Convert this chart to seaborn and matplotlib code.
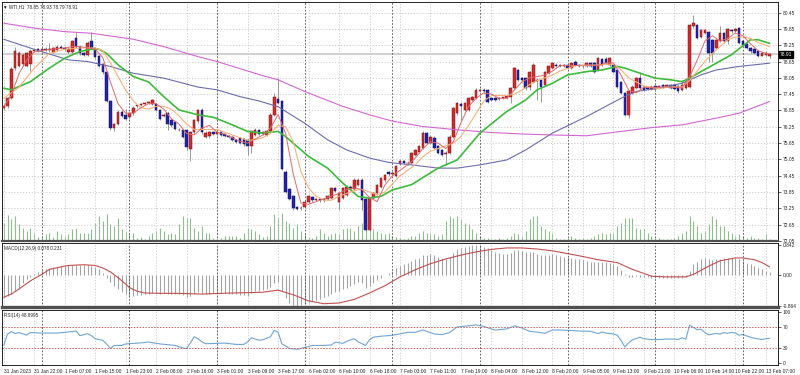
import matplotlib
matplotlib.use('Agg')
import matplotlib.pyplot as plt
import seaborn as sns

# WTI H1 bars, 31 Jan 14:00 -> 13 Feb 08:00 (one entry per hourly bar)
opens = [
    76.93, 77.00, 77.32, 78.40, 78.50, 78.55, 78.50, 78.55, 79.05, 79.10,
    79.05, 79.12, 79.06, 79.00, 79.08, 79.18, 79.15, 79.00, 79.00, 79.52,
    79.20, 78.95, 78.90, 79.40, 79.15, 78.85, 78.55, 78.25, 77.20, 76.20,
    76.35, 76.80, 76.70, 76.60, 76.75, 77.00, 77.05, 77.10, 77.14, 77.08,
    77.08, 76.86, 76.65, 76.74, 76.49, 76.43, 76.12, 76.12, 76.12, 75.44,
    76.06, 76.45, 76.85, 75.88, 75.90, 76.05, 76.00, 76.05, 76.00, 75.92,
    75.87, 75.76, 75.82, 75.80, 75.75, 75.55, 75.95, 76.15, 75.97, 75.95,
    76.08, 76.70, 77.27, 77.20, 74.60, 73.95, 73.70, 73.30, 73.25, 73.30,
    73.50, 73.65, 73.56, 73.58, 73.55, 73.58, 73.62, 74.00, 73.50, 73.63,
    73.75, 74.05, 73.95, 74.12, 74.30, 73.60, 72.46, 73.63, 73.81, 74.05,
    74.28, 74.60, 74.50, 74.45, 74.88, 75.00, 74.92, 74.91, 75.22, 75.34,
    75.46, 76.02, 75.65, 75.85, 75.53, 75.40, 75.25, 75.30, 75.89, 76.75,
    77.10, 76.87, 76.87, 77.24, 77.30, 77.58, 77.61, 77.61, 77.30, 77.30,
    77.28, 77.30, 77.32, 77.36, 77.67, 78.34, 78.04, 78.04, 77.73, 77.91,
    77.98, 77.98, 77.79, 78.22, 78.41, 78.53, 78.50, 78.52, 78.53, 78.41,
    78.65, 78.53, 78.48, 78.47, 78.59, 78.59, 78.34, 78.74, 78.74, 78.53,
    78.53, 78.34, 77.91, 77.49, 76.69, 77.49, 77.67, 78.04, 77.73, 77.67,
    77.63, 77.76, 77.71, 77.79, 77.76, 77.79, 77.79, 77.76, 77.61, 77.67,
    77.70, 79.94, 80.00, 79.57, 79.69, 79.75, 79.45, 79.14, 79.40, 79.69,
    79.40, 79.81, 79.76, 79.88, 79.39, 79.30, 79.16, 79.10, 79.02, 78.87,
    78.90, 78.85]
highs = [
    77.05, 77.35, 78.45, 79.20, 79.05, 78.98, 79.00, 79.10, 79.12, 79.15,
    79.18, 79.20, 79.33, 79.20, 79.25, 79.25, 79.22, 79.18, 79.45, 79.74,
    79.25, 79.00, 79.40, 79.74, 79.20, 78.90, 78.60, 78.30, 77.25, 76.40,
    76.85, 76.85, 76.90, 76.80, 77.00, 77.08, 77.14, 77.16, 77.20, 77.28,
    77.12, 76.90, 76.75, 76.78, 76.55, 76.48, 76.20, 76.16, 76.15, 76.10,
    76.55, 76.92, 76.95, 76.08, 76.10, 76.10, 76.10, 76.08, 76.04, 75.96,
    75.90, 75.80, 75.86, 75.84, 75.80, 76.15, 76.20, 76.18, 76.10, 76.12,
    76.75, 77.50, 78.04, 77.24, 74.65, 74.00, 73.75, 73.34, 73.32, 73.55,
    73.75, 73.70, 73.62, 73.62, 73.64, 73.74, 74.04, 74.05, 73.85, 74.02,
    74.10, 74.10, 74.35, 74.36, 74.35, 73.65, 73.68, 73.86, 74.16, 74.40,
    74.52, 74.64, 74.62, 74.84, 75.05, 75.04, 74.98, 75.32, 75.44, 75.58,
    76.08, 76.06, 75.94, 75.90, 75.57, 75.45, 75.35, 75.94, 76.98, 77.16,
    77.15, 77.16, 77.34, 77.40, 77.66, 77.68, 77.66, 77.65, 77.34, 77.34,
    77.34, 77.36, 77.42, 77.72, 78.46, 78.38, 78.08, 78.08, 78.32, 78.58,
    78.03, 78.02, 78.32, 78.52, 78.65, 78.58, 78.57, 78.56, 78.57, 78.63,
    78.70, 78.57, 78.52, 78.63, 78.63, 78.63, 78.81, 78.79, 78.83, 78.83,
    78.57, 78.38, 77.95, 77.53, 77.60, 77.78, 78.09, 78.28, 77.77, 77.72,
    77.77, 77.80, 77.80, 77.83, 77.83, 77.83, 77.83, 77.80, 77.98, 77.96,
    80.04, 80.37, 80.04, 79.85, 79.85, 79.79, 79.49, 79.49, 79.94, 79.72,
    79.88, 79.85, 79.88, 79.92, 79.43, 79.34, 79.20, 79.14, 79.06, 79.00,
    79.02, 78.93]
lows = [
    76.88, 76.95, 77.28, 78.35, 78.45, 78.50, 78.45, 78.30, 79.00, 79.00,
    79.00, 79.03, 79.00, 78.98, 79.05, 79.10, 79.05, 78.95, 78.98, 79.15,
    78.90, 78.85, 78.85, 79.10, 78.75, 78.45, 78.20, 77.15, 76.12, 76.10,
    76.30, 76.60, 76.50, 76.55, 76.70, 76.95, 77.02, 77.05, 77.08, 77.05,
    76.83, 76.50, 76.60, 76.12, 76.25, 76.15, 76.08, 75.82, 75.38, 75.00,
    76.00, 76.40, 75.98, 75.82, 75.85, 75.95, 75.95, 75.90, 75.88, 75.84,
    75.72, 75.66, 75.62, 75.56, 75.20, 75.30, 75.90, 75.94, 75.94, 75.92,
    76.05, 76.65, 77.10, 74.65, 73.80, 73.55, 73.20, 73.18, 73.20, 73.28,
    73.45, 73.50, 73.52, 73.50, 73.50, 73.55, 73.58, 73.85, 73.20, 73.60,
    73.70, 73.90, 73.90, 74.08, 73.20, 72.40, 72.42, 73.58, 73.76, 74.00,
    74.22, 74.45, 74.44, 74.40, 74.84, 74.88, 74.86, 74.88, 75.18, 75.30,
    75.42, 75.60, 75.60, 75.42, 75.24, 75.18, 74.85, 75.26, 75.85, 76.70,
    76.51, 76.82, 76.82, 77.20, 77.26, 77.54, 77.50, 77.14, 77.20, 77.20,
    77.24, 77.26, 77.28, 77.12, 77.62, 77.94, 77.90, 77.62, 77.61, 77.86,
    77.24, 77.18, 77.75, 78.18, 78.36, 78.46, 78.46, 78.45, 78.37, 78.38,
    78.49, 78.46, 78.43, 78.44, 78.46, 78.24, 78.30, 78.49, 78.55, 78.50,
    78.24, 77.68, 77.44, 76.64, 76.57, 77.45, 77.63, 77.63, 77.57, 77.59,
    77.59, 77.58, 77.67, 77.67, 77.72, 77.63, 77.59, 77.49, 77.57, 77.63,
    77.66, 79.90, 79.47, 79.53, 79.65, 78.65, 78.65, 79.10, 79.36, 79.35,
    79.28, 79.71, 79.71, 79.28, 79.22, 79.10, 78.98, 78.92, 78.82, 78.84,
    78.86, 78.79]
closes = [
    77.02, 77.30, 78.38, 79.05, 78.95, 78.90, 78.95, 79.05, 79.08, 79.05,
    79.12, 79.08, 79.12, 79.15, 79.20, 79.15, 79.12, 79.12, 79.40, 79.20,
    78.95, 78.90, 79.35, 79.15, 78.80, 78.50, 78.28, 77.20, 76.20, 76.35,
    76.80, 76.65, 76.55, 76.75, 76.95, 77.05, 77.10, 77.12, 77.17, 77.23,
    76.86, 76.55, 76.70, 76.37, 76.30, 76.18, 76.15, 75.87, 75.50, 76.06,
    76.50, 76.88, 76.05, 76.03, 76.05, 76.00, 76.05, 75.95, 75.92, 75.87,
    75.75, 75.70, 75.65, 75.60, 75.55, 76.10, 76.15, 75.97, 76.07, 76.08,
    76.70, 77.36, 77.14, 74.70, 73.85, 73.60, 73.25, 73.23, 73.27, 73.50,
    73.69, 73.55, 73.58, 73.55, 73.60, 73.70, 74.00, 73.90, 73.81, 73.99,
    74.05, 73.95, 74.30, 74.30, 73.56, 72.46, 73.63, 73.81, 74.12, 74.36,
    74.48, 74.50, 74.55, 74.80, 75.00, 74.92, 74.93, 75.28, 75.40, 75.53,
    76.02, 75.65, 75.89, 75.46, 75.28, 75.22, 75.30, 75.89, 76.93, 77.12,
    77.00, 77.12, 77.30, 77.36, 77.61, 77.61, 77.55, 77.18, 77.24, 77.25,
    77.30, 77.33, 77.38, 77.67, 78.41, 77.98, 77.96, 77.67, 78.28, 78.53,
    77.92, 77.73, 78.28, 78.47, 78.59, 78.50, 78.53, 78.49, 78.41, 78.59,
    78.53, 78.50, 78.47, 78.59, 78.50, 78.28, 78.77, 78.53, 78.59, 78.77,
    78.28, 77.73, 77.49, 76.69, 77.55, 77.73, 78.04, 77.67, 77.61, 77.63,
    77.73, 77.63, 77.76, 77.71, 77.79, 77.67, 77.63, 77.55, 77.79, 77.91,
    80.00, 80.06, 79.51, 79.81, 79.81, 78.96, 78.96, 79.45, 79.69, 79.40,
    79.84, 79.78, 79.84, 79.32, 79.26, 79.14, 79.02, 78.96, 78.86, 78.96,
    78.98, 78.91]
volumes = [
    1800, 2600, 2200, 2500, 1700, 1300, 1000, 1300, 800, 400,
    500, 700, 800, 400, 1000, 700, 500, 700, 1200, 1300,
    800, 800, 800, 1200, 1800, 2500, 2000, 2700, 1700, 1500,
    2300, 1200, 1000, 700, 800, 300, 400, 200, 500, 800,
    1000, 1300, 1000, 700, 800, 700, 1700, 2500, 2300, 2300,
    1300, 1000, 1500, 800, 800, 300, 200, 300, 500, 500,
    500, 500, 300, 800, 1300, 1200, 1000, 700, 400, 500,
    1500, 2700, 2300, 2800, 2000, 1800, 1300, 1700, 1000, 700,
    400, 300, 500, 1200, 800, 500, 700, 800, 700, 1200,
    1300, 1300, 1000, 1500, 1800, 2500, 2300, 1200, 1000, 800,
    700, 800, 500, 400, 300, 200, 300, 500, 500, 800,
    1000, 800, 800, 700, 500, 700, 2000, 2500, 2300, 2500,
    2200, 1800, 1700, 1200, 800, 500, 300, 300, 200, 200,
    300, 200, 300, 500, 800, 700, 500, 1000, 2200, 2500,
    2500, 1500, 1200, 1000, 800, 300, 200, 200, 300, 500,
    300, 200, 300, 200, 300, 500, 700, 800, 700, 800,
    800, 1500, 1800, 2300, 2300, 2300, 1300, 1200, 1200, 800,
    500, 300, 300, 200, 200, 200, 300, 500, 800, 1000,
    2500, 2000, 1500, 800, 1000, 1700, 2500, 2200, 1500, 1500,
    1000, 800, 500, 700, 500, 300, 500, 300, 300, 200,
    700, 200]

# moving averages at sample bars
ma_fast_bars = list(range(0, 201, 2)) + [201]
ma_fast = [
    77.0, 77.4, 78.2, 78.7, 79.0, 79.05, 79.1, 79.12, 79.15, 79.2,
    79.2, 79.15, 79.1, 78.8, 77.9, 77.1, 76.75, 76.75, 76.95, 77.1,
    77.1, 76.9, 76.55, 76.35, 76.0, 75.95, 76.2, 76.3, 76.05, 75.98,
    75.85, 75.72, 75.65, 75.8, 75.95, 76.2, 76.7, 76.0, 74.5, 73.45,
    73.4, 73.5, 73.6, 73.7, 73.8, 73.95, 74.0, 73.95, 73.65, 73.5,
    74.1, 74.45, 74.65, 74.85, 75.1, 75.45, 75.7, 75.65, 75.45, 75.7,
    76.4, 77.0, 77.3, 77.5, 77.45, 77.3, 77.3, 77.6, 77.9, 78.05,
    78.1, 78.15, 78.3, 78.5, 78.5, 78.5, 78.52, 78.52, 78.5, 78.6,
    78.6, 78.15, 77.6, 77.5, 77.7, 77.7, 77.7, 77.72, 77.7, 77.68,
    78.1, 78.7, 79.4, 79.6, 79.4, 79.5, 79.7, 79.6, 79.3, 79.05,
    78.95, 78.93]
ma_mid_bars = [
    0, 4, 8, 12, 16, 20, 24, 26, 28, 30, 32, 34, 36, 38, 40, 42, 44, 46, 48, 50,
    52, 54, 56, 58, 60, 62, 64, 66, 68, 70, 72, 74, 76, 78, 80, 82, 84, 86, 88, 90,
    92, 94, 96, 98, 100, 102, 104, 106, 108, 110, 112, 114, 116, 118, 120, 122, 124,
    126, 128, 130, 132, 134, 136, 138, 140, 142, 144, 146, 148, 150, 152, 154, 156,
    158, 160, 162, 164, 166, 168, 170, 172, 174, 176, 178, 180, 182, 184, 186, 188,
    190, 192, 194, 196, 198, 201]
ma_mid = [
    77.3, 77.7, 78.4, 78.95, 79.1, 79.15, 79.15, 79.05, 78.6, 78.1,
    77.6, 77.2, 76.95, 76.9, 77.0, 77.0, 76.9, 76.65, 76.35, 76.15,
    76.15, 76.15, 76.15, 76.05, 75.95, 75.85, 75.75, 75.78, 75.85, 76.0,
    76.3, 76.25, 75.7, 74.6, 74.0, 73.7, 73.55, 73.55, 73.7, 73.8,
    73.9, 73.95, 73.85, 73.75, 73.85, 74.15, 74.45, 74.65, 74.85, 75.15,
    75.35, 75.45, 75.55, 75.65, 75.9, 76.3, 76.75, 77.2, 77.4, 77.4,
    77.4, 77.45, 77.6, 77.8, 77.95, 78.05, 78.15, 78.3, 78.4, 78.5,
    78.5, 78.52, 78.52, 78.55, 78.55, 78.35, 78.05, 77.9, 77.75, 77.7,
    77.65, 77.7, 77.72, 77.72, 77.95, 78.3, 78.65, 78.95, 79.2, 79.45,
    79.55, 79.55, 79.5, 79.35, 79.2]
ma_green_bars = [
    0, 2, 7, 12, 16, 20, 23, 25, 27, 30, 34, 38, 42, 46, 51, 55, 59, 64, 68, 72,
    74, 80, 85, 89, 93, 96, 99, 102, 107, 114, 119, 125, 132, 137, 140, 144, 148,
    153, 157, 161, 163, 167, 171, 175, 178, 180, 183, 187, 191, 196, 198, 201]
ma_green = [
    77.67, 77.61, 77.91, 78.41, 78.77, 79.02, 79.10, 79.10, 78.95, 78.53,
    78.10, 77.90, 77.36, 76.87, 76.69, 76.60, 76.38, 76.08, 76.02, 76.08,
    75.89, 75.16, 74.73, 74.18, 73.69, 73.63, 73.69, 73.93, 74.12, 74.73,
    75.03, 76.02, 76.81, 77.24, 77.61, 77.85, 78.16, 78.28, 78.34, 78.47,
    78.41, 78.22, 78.04, 77.98, 77.91, 78.04, 78.28, 78.59, 78.90, 79.45,
    79.45, 79.32]
ma_slow_bars = [
    0, 8, 17, 22, 28, 34, 42, 51, 56, 62, 67, 72, 79, 85, 90, 96, 101, 107, 114,
    119, 125, 132, 137, 144, 153, 162, 166, 171, 178, 183, 187, 193, 201]
ma_slow = [
    79.47, 79.10, 78.71, 78.65, 78.47, 78.22, 78.04, 77.71, 77.61, 77.36,
    77.20, 76.99, 76.38, 75.77, 75.40, 75.10, 74.94, 74.85, 74.73, 74.73,
    74.85, 75.03, 75.40, 76.02, 76.63, 77.30, 77.55, 77.65, 77.85, 78.16,
    78.34, 78.47, 78.59]
ma_long_bars = [
    0, 8, 16, 23, 34, 42, 51, 56, 68, 72, 79, 89, 96, 102, 110, 119, 128, 137,
    144, 153, 162, 170, 178, 187, 193, 201]
ma_long = [
    80.06, 79.88, 79.75, 79.69, 79.47, 79.20, 78.83, 78.65, 78.13, 77.98,
    77.55, 77.00, 76.69, 76.46, 76.26, 76.14, 76.04, 75.98, 75.95, 75.92,
    76.08, 76.22, 76.32, 76.57, 76.75, 77.18]

# MACD(12,26,9): main line drawn as histogram, signal as line
macd_main = [
    -0.62, -0.58, -0.52, -0.45, -0.35, -0.22, -0.12, -0.05, 0.02, 0.08, 0.13, 0.17,
    0.20, 0.22, 0.24, 0.25,
    0.26, 0.27, 0.27, 0.28, 0.28, 0.27, 0.27, 0.26, 0.22, 0.16,
    0.06, -0.08, -0.20, -0.30, -0.40, -0.47, -0.54, -0.58, -0.58, -0.57, -0.55, -0.53,
    -0.52, -0.50, -0.50, -0.52, -0.50, -0.52, -0.53, -0.54, -0.54, -0.56, -0.60, -0.58,
    -0.52, -0.47, -0.50,
    -0.52, -0.52, -0.50, -0.50, -0.50, -0.50, -0.52, -0.53, -0.54, -0.56, -0.57, -0.58,
    -0.50, -0.45, -0.44, -0.42, -0.40, -0.33, -0.22,
    -0.20, -0.45, -0.65, -0.78, -0.86, -0.86, -0.84, -0.80, -0.75, -0.72, -0.70, -0.66,
    -0.62,
    -0.58, -0.52, -0.48, -0.44, -0.40, -0.35, -0.30, -0.25, -0.20, -0.22, -0.35, -0.30,
    -0.22, -0.15, -0.08,
    0.00, 0.06, 0.12, 0.20, 0.26, 0.30, 0.34, 0.40, 0.44, 0.48, 0.55, 0.56, 0.58, 0.56,
    0.52, 0.48,
    0.46, 0.50, 0.62, 0.72, 0.76, 0.80, 0.82, 0.84, 0.84, 0.83, 0.80, 0.75, 0.70, 0.66,
    0.62,
    0.60, 0.60, 0.62, 0.70, 0.70, 0.68, 0.64, 0.64, 0.66, 0.60, 0.55, 0.55, 0.56, 0.58,
    0.56,
    0.54, 0.52, 0.50, 0.48, 0.46, 0.44, 0.42, 0.40, 0.38, 0.36, 0.36, 0.36, 0.36, 0.35,
    0.32, 0.25, 0.15, 0.02,
    -0.04, -0.04, -0.03, -0.04, -0.05, -0.06, -0.07, -0.07, -0.07, -0.07, -0.07, -0.07,
    -0.08, -0.08, -0.07, -0.06,
    0.12, 0.30, 0.38, 0.44, 0.48, 0.45, 0.42, 0.44, 0.46, 0.47, 0.47, 0.47, 0.47, 0.45,
    0.40, 0.35, 0.30, 0.25, 0.20, 0.16, 0.12, 0.078]
signal_bars = [
    0, 2, 4, 7, 10, 12, 15, 17, 21, 24, 26, 28, 30, 32, 33, 35, 37, 41, 46, 52,
    60, 68, 72, 76, 80, 84, 88, 92, 96, 100, 104, 108, 112, 116, 120, 124, 128, 132,
    136, 140, 144, 148, 152, 156, 161, 165, 170, 174, 179, 181, 185, 188, 192, 194,
    197, 199, 201]
signal = [
    -0.62, -0.53, -0.39, -0.16, 0.02, 0.16, 0.23, 0.27, 0.29, 0.27,
    0.20, 0.09, -0.07, -0.25, -0.35, -0.45, -0.50, -0.51, -0.51, -0.53,
    -0.50, -0.48, -0.42, -0.55, -0.72, -0.80, -0.78, -0.68, -0.50, -0.30,
    -0.05, 0.15, 0.32, 0.45, 0.56, 0.65, 0.72, 0.76, 0.76, 0.73,
    0.68, 0.60, 0.52, 0.43, 0.35, 0.16, -0.03, -0.05, -0.05, 0.02,
    0.25, 0.40, 0.48, 0.48, 0.43, 0.35, 0.231]

# RSI(14)
rsi_bars = [
    0, 1, 2, 3, 4, 6, 7, 10, 14, 18, 19, 20, 22, 23, 24, 26, 27, 28, 29, 31,
    32, 36, 38, 41, 45, 47, 48, 49, 50, 51, 52, 53, 56, 58, 61, 63, 64, 65, 67, 68,
    70, 71, 72, 73, 74, 75, 77, 79, 81, 84, 86, 87, 89, 90, 92, 93, 95, 96, 97, 99,
    101, 103, 106, 108, 110, 113, 115, 117, 119, 122, 124, 126, 128, 129, 132, 134,
    136, 138, 140, 142, 144, 146, 149, 151, 154, 156, 157, 158, 160, 161, 162, 163,
    164, 165, 167, 168, 170, 172, 174, 176, 177, 178, 179, 180, 181, 182, 183, 184,
    185, 186, 187, 188, 189, 190, 191, 192, 193, 194, 196, 197, 199, 200, 201]
rsi = [
    35, 57, 62, 58, 60, 55, 60, 59, 59, 62, 63, 54, 58, 54, 48, 45, 38, 29, 35, 35,
    38, 40, 41.5, 38, 35, 30, 29, 40, 52, 48, 42, 38.4, 39, 39.6, 37, 37, 42, 50, 45, 46,
    52, 64, 61, 38, 34, 29, 27.5, 31, 35, 35, 36, 41.5, 39, 43, 48, 42, 35, 46, 51, 53,
    54, 56, 60.5, 60.5, 65, 57.3, 56, 60, 71, 73, 75, 72, 67, 65, 67, 73,
    69, 62.4, 61, 58.6, 65, 65, 64, 63, 62.4, 58, 61, 59, 57.3, 55, 45, 32,
    40, 46, 51, 48, 46.5, 46.5, 47.5, 47.5, 46.5, 50, 47, 74.5, 70, 65.6, 66.5, 60,
    55.4, 57, 58.5, 57, 60, 58.5, 60.5, 59, 55, 56, 51, 49, 46.6, 48, 48.9]

price_ticks = [80.45, 79.85, 79.25, 78.65, 78.05, 77.45, 76.85, 76.25,
               75.65, 75.05, 74.45, 73.85, 73.25, 72.65, 72.05]
time_labels = ['31 Jan 2023', '31 Jan 22:00', '1 Feb 07:00', '1 Feb 15:00',
               '1 Feb 23:00', '2 Feb 08:00', '2 Feb 16:00', '3 Feb 01:00',
               '3 Feb 09:00', '3 Feb 17:00', '6 Feb 02:00', '6 Feb 10:00',
               '6 Feb 18:00', '7 Feb 03:00', '7 Feb 11:00', '7 Feb 19:00',
               '8 Feb 04:00', '8 Feb 12:00', '8 Feb 20:00', '9 Feb 05:00',
               '9 Feb 13:00', '9 Feb 21:00', '10 Feb 06:00', '10 Feb 14:00',
               '10 Feb 22:00', '13 Feb 07:00']
day_starts = [10, 33, 56, 79, 102, 125, 148, 171, 194]
last_price = 78.91

sns.set_style('white')
plt.rcParams['font.family'] = ['Liberation Sans', 'DejaVu Sans']

W, H = 800, 375
fig = plt.figure(figsize=(W / 100, H / 100), dpi=100)


def panel(top, bottom):
    return fig.add_axes([2 / W, 1 - bottom / H, 776 / W, (bottom - top) / H])


ax = panel(2, 241)
ax_macd = panel(243, 307)
ax_rsi = panel(310, 365)

bars = list(range(len(closes)))
tick_bars = list(range(0, 8 * len(time_labels), 8))
grid_kw = dict(color='#c8c8c8', lw=0.6, ls=(0, (1.5, 2)))
fs_axis = 3.5
fs_label = 3.3

# volume in the price window, on its own scale
axv = ax.twinx()
axv.vlines(bars, 0, volumes, color='#8cbf8c', lw=0.8)
axv.set_ylim(0, 23900)
axv.axis('off')
ax.set_zorder(axv.get_zorder() + 1)
ax.patch.set_visible(False)

# candles
up = [c >= o for o, c in zip(opens, closes)]
ax.vlines(bars, lows, highs, color='#8a8a8a', lw=0.6, zorder=3)
ax.bar(bars, [c - o for o, c in zip(opens, closes)], bottom=opens, width=0.66,
       color=['#d22b2b' if u else '#2323a8' for u in up],
       edgecolor=['#7a1414' if u else '#12125e' for u in up], lw=0.35, zorder=4)

ax.axhline(last_price, color='#d2d2d2', lw=1.5, zorder=1)

line_kw = dict(ax=ax, estimator=None, sort=False, legend=False, zorder=5)
sns.lineplot(x=ma_long_bars, y=ma_long, color='#d466d4', lw=0.8, **line_kw)
sns.lineplot(x=ma_slow_bars, y=ma_slow, color='#6c6cae', lw=0.8, **line_kw)
sns.lineplot(x=ma_green_bars, y=ma_green, color='#3dbb3d', lw=1.2, **line_kw)
sns.lineplot(x=ma_mid_bars, y=ma_mid, color='#f2b27a', lw=0.8, **line_kw)
sns.lineplot(x=ma_fast_bars, y=ma_fast, color='#e06a6a', lw=0.7, **line_kw)

ax.set_ylim(72.06, 80.84)
ax.set_yticks(price_ticks)
ax.set_yticklabels(['%.2f' % p for p in price_ticks])
ax.text(1.002, last_price, '%.2f' % last_price, transform=ax.get_yaxis_transform(),
        fontsize=fs_axis, color='white', va='center', ha='left', zorder=10,
        bbox=dict(boxstyle='square,pad=0.2', fc='black', ec='black'))
ax.grid(True, axis='both', **grid_kw)

# MACD
ax_macd.vlines(bars, 0, macd_main, color='#a4a4a4', lw=0.8)
sns.lineplot(x=signal_bars, y=signal, ax=ax_macd, color='#c25050', lw=0.8,
             estimator=None, sort=False, legend=False)
ax_macd.set_ylim(-0.892, 0.898)
ax_macd.set_yticks([0.842, 0.0, -0.864])
ax_macd.set_yticklabels(['0.842', '0.00', '-0.864'])
ax_macd.grid(True, axis='x', **grid_kw)
ax_macd.text(0.003, 0.95, 'MACD(12,26,9) 0.078 0.231', transform=ax_macd.transAxes,
             fontsize=fs_label, va='top', ha='left')

# RSI
sns.lineplot(x=rsi_bars, y=rsi, ax=ax_rsi, color='#6fa6d6', lw=0.8,
             estimator=None, sort=False, legend=False)
for level in (70, 30):
    ax_rsi.axhline(level, color='#d06060', lw=0.7, ls=(0, (1.5, 1.5)))
ax_rsi.set_ylim(-2.95, 103.8)
ax_rsi.set_yticks([100, 70, 30, 0])
ax_rsi.set_yticklabels(['100', '70', '30', '0'])
ax_rsi.grid(True, axis='x', **grid_kw)
ax_rsi.text(0.003, 0.95, 'RSI(14) 48.8995', transform=ax_rsi.transAxes,
            fontsize=fs_label, va='top', ha='left')

for a in (ax, ax_macd, ax_rsi):
    a.set_xlim(-0.45, 203.2)
    a.set_xticks(tick_bars)
    a.set_axisbelow(True)
    a.yaxis.tick_right()
    a.tick_params(axis='y', labelsize=fs_axis, length=2, width=0.5, pad=1.5)
    a.set_xlabel('')
    a.set_ylabel('')
    for s in a.spines.values():
        s.set_color('black')
        s.set_linewidth(0.6)
    for d in day_starts:
        a.axvline(d, color='#4d4d4d', lw=0.6, ls=(0, (2, 2)), zorder=2)

for a in (ax, ax_macd):
    a.tick_params(axis='x', length=0, labelbottom=False)

ax.spines['bottom'].set_linewidth(1.6)
ax.spines['bottom'].set_color('#505050')
ax_macd.spines['bottom'].set_linewidth(2.4)
ax_macd.spines['bottom'].set_color('#505050')

ax_rsi.set_xticklabels(time_labels)
ax_rsi.tick_params(axis='x', labelsize=fs_axis, length=2, width=0.5, pad=1)
for lab in ax_rsi.get_xticklabels():
    lab.set_ha('left')

fig.text(3 / W, 1 - 6.5 / H, '\u25bc WTI,H1  78.85 78.93 78.79 78.91',
         fontsize=fs_label, va='center', ha='left')

fig.savefig('out.png', dpi=100, facecolor='white')
